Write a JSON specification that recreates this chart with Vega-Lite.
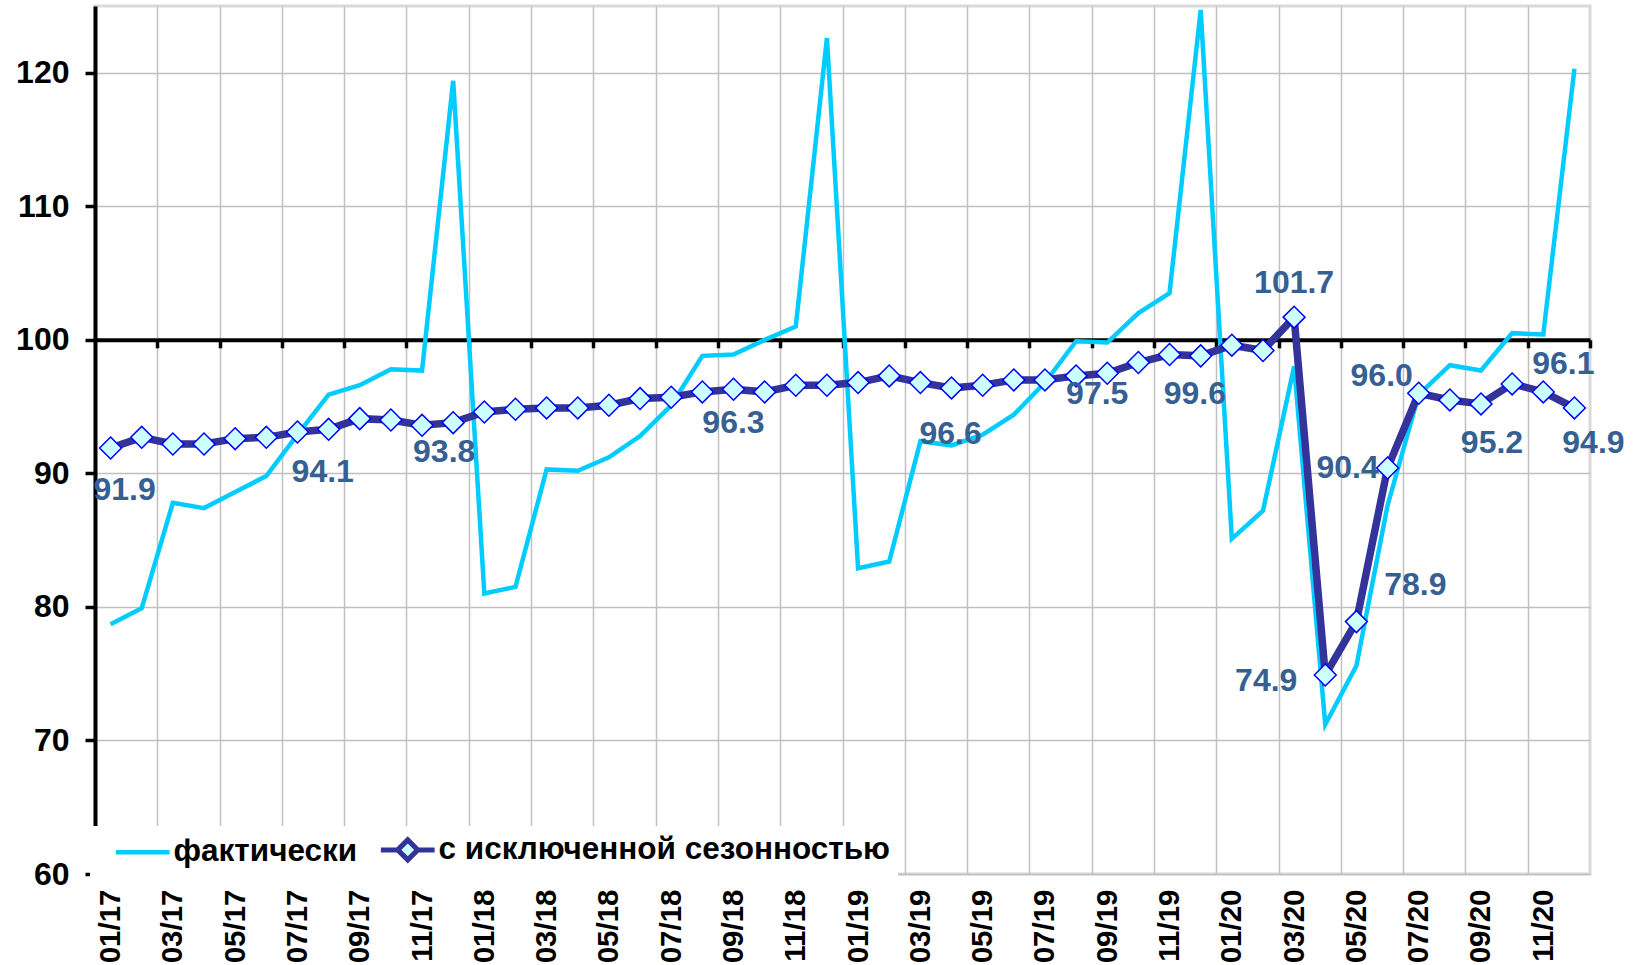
{
  "$schema": "https://vega.github.io/schema/vega-lite/v6.json",
  "width": 1495,
  "height": 868,
  "autosize": {"type": "none"},
  "padding": {"left": 95, "top": 6, "right": 46, "bottom": 91},
  "background": "white",
  "config": {"view": {"stroke": "#d9d9d9", "strokeWidth": 3}, "font": "Liberation Sans"},
  "data": {"values": [
    {"i":0,"s":"фактически","v":78.7},{"i":1,"s":"фактически","v":79.9},{"i":2,"s":"фактически","v":87.8},{"i":3,"s":"фактически","v":87.4},
    {"i":4,"s":"фактически","v":88.6},{"i":5,"s":"фактически","v":89.8},{"i":6,"s":"фактически","v":92.9},{"i":7,"s":"фактически","v":95.9},
    {"i":8,"s":"фактически","v":96.6},{"i":9,"s":"фактически","v":97.8},{"i":10,"s":"фактически","v":97.7},{"i":11,"s":"фактически","v":119.4},
    {"i":12,"s":"фактически","v":81.0},{"i":13,"s":"фактически","v":81.5},{"i":14,"s":"фактически","v":90.3},{"i":15,"s":"фактически","v":90.2},
    {"i":16,"s":"фактически","v":91.2},{"i":17,"s":"фактически","v":92.8},{"i":18,"s":"фактически","v":95.1},{"i":19,"s":"фактически","v":98.8},
    {"i":20,"s":"фактически","v":98.9},{"i":21,"s":"фактически","v":100.0},{"i":22,"s":"фактически","v":101.0},{"i":23,"s":"фактически","v":122.6},
    {"i":24,"s":"фактически","v":82.9},{"i":25,"s":"фактически","v":83.4},{"i":26,"s":"фактически","v":92.4},{"i":27,"s":"фактически","v":92.1},
    {"i":28,"s":"фактически","v":92.9},{"i":29,"s":"фактически","v":94.4},{"i":30,"s":"фактически","v":96.8},{"i":31,"s":"фактически","v":99.9},
    {"i":32,"s":"фактически","v":99.8},{"i":33,"s":"фактически","v":102.0},{"i":34,"s":"фактически","v":103.5},{"i":35,"s":"фактически","v":124.7},
    {"i":36,"s":"фактически","v":85.1},{"i":37,"s":"фактически","v":87.2},{"i":38,"s":"фактически","v":98.0},{"i":39,"s":"фактически","v":71.2},
    {"i":40,"s":"фактически","v":75.6},{"i":41,"s":"фактически","v":87.6},{"i":42,"s":"фактически","v":95.9},{"i":43,"s":"фактически","v":98.1},
    {"i":44,"s":"фактически","v":97.7},{"i":45,"s":"фактически","v":100.5},{"i":46,"s":"фактически","v":100.4},{"i":47,"s":"фактически","v":120.3},
    {"i":0,"s":"с исключенной сезонностью","v":91.9},{"i":1,"s":"с исключенной сезонностью","v":92.7},{"i":2,"s":"с исключенной сезонностью","v":92.2},{"i":3,"s":"с исключенной сезонностью","v":92.2},
    {"i":4,"s":"с исключенной сезонностью","v":92.6},{"i":5,"s":"с исключенной сезонностью","v":92.7},{"i":6,"s":"с исключенной сезонностью","v":93.1},{"i":7,"s":"с исключенной сезонностью","v":93.3},
    {"i":8,"s":"с исключенной сезонностью","v":94.1},{"i":9,"s":"с исключенной сезонностью","v":94.0},{"i":10,"s":"с исключенной сезонностью","v":93.6},{"i":11,"s":"с исключенной сезонностью","v":93.8},
    {"i":12,"s":"с исключенной сезонностью","v":94.6},{"i":13,"s":"с исключенной сезонностью","v":94.8},{"i":14,"s":"с исключенной сезонностью","v":94.9},{"i":15,"s":"с исключенной сезонностью","v":94.9},
    {"i":16,"s":"с исключенной сезонностью","v":95.1},{"i":17,"s":"с исключенной сезонностью","v":95.6},{"i":18,"s":"с исключенной сезонностью","v":95.7},{"i":19,"s":"с исключенной сезонностью","v":96.1},
    {"i":20,"s":"с исключенной сезонностью","v":96.3},{"i":21,"s":"с исключенной сезонностью","v":96.1},{"i":22,"s":"с исключенной сезонностью","v":96.6},{"i":23,"s":"с исключенной сезонностью","v":96.6},
    {"i":24,"s":"с исключенной сезонностью","v":96.8},{"i":25,"s":"с исключенной сезонностью","v":97.3},{"i":26,"s":"с исключенной сезонностью","v":96.8},{"i":27,"s":"с исключенной сезонностью","v":96.4},
    {"i":28,"s":"с исключенной сезонностью","v":96.6},{"i":29,"s":"с исключенной сезонностью","v":97.0},{"i":30,"s":"с исключенной сезонностью","v":97.0},{"i":31,"s":"с исключенной сезонностью","v":97.3},
    {"i":32,"s":"с исключенной сезонностью","v":97.5},{"i":33,"s":"с исключенной сезонностью","v":98.3},{"i":34,"s":"с исключенной сезонностью","v":98.9},{"i":35,"s":"с исключенной сезонностью","v":98.8},
    {"i":36,"s":"с исключенной сезонностью","v":99.6},{"i":37,"s":"с исключенной сезонностью","v":99.2},{"i":38,"s":"с исключенной сезонностью","v":101.7},{"i":39,"s":"с исключенной сезонностью","v":74.9},
    {"i":40,"s":"с исключенной сезонностью","v":78.9},{"i":41,"s":"с исключенной сезонностью","v":90.4},{"i":42,"s":"с исключенной сезонностью","v":96.0},{"i":43,"s":"с исключенной сезонностью","v":95.5},
    {"i":44,"s":"с исключенной сезонностью","v":95.2},{"i":45,"s":"с исключенной сезонностью","v":96.7},{"i":46,"s":"с исключенной сезонностью","v":96.1},{"i":47,"s":"с исключенной сезонностью","v":94.9}
  ]},
  "resolve": {"axis": {"x": "independent"}},
  "encoding": {
    "y": {"field": "v", "type": "quantitative",
      "scale": {"domain": [60, 125], "nice": false, "zero": false},
      "axis": {"values": [60,70,80,90,100,110,120], "title": null, "grid": true, "gridColor": "#c0c0c0", "gridWidth": 1.5,
        "domainColor": "black", "domainWidth": 4, "tickColor": "black", "tickWidth": 3.5, "tickSize": 10,
        "labelFont": "Liberation Sans", "labelFontSize": 32, "labelFontWeight": "bold", "labelColor": "black",
        "labelPadding": 16, "labelFlush": false, "labelOverlap": false}}
  },
  "layer": [
    {
      "transform": [{"filter": "datum.s === 'фактически'"}],
      "mark": {"type": "line", "strokeWidth": 4.5},
      "encoding": {
        "x": {"field": "i", "type": "quantitative", "scale": {"domain": [-0.5, 47.5], "nice": false, "zero": false},
          "axis": {"orient": "bottom", "title": null, "values": [0,2,4,6,8,10,12,14,16,18,20,22,24,26,28,30,32,34,36,38,40,42,44,46],
            "labelExpr": "(datum.value % 12 < 9 ? '0' : '') + (datum.value % 12 + 1) + '/' + (17 + floor(datum.value / 12))",
            "labelAngle": 270, "labelFont": "Liberation Sans", "labelFontSize": 29.5, "labelFontWeight": "bold", "labelColor": "black",
            "labelPadding": 15, "ticks": false, "tickSize": 0, "domain": false, "grid": false, "labelFlush": false, "labelOverlap": false}},
        "stroke": {"field": "s", "type": "nominal",
          "scale": {"domain": ["фактически", "с исключенной сезонностью"], "range": ["#00CCFF", "#333399"]},
          "legend": {"title": null, "orient": "none", "legendX": -5, "legendY": 820, "direction": "horizontal",
            "fillColor": "white", "padding": 8, "symbolSize": 625, "symbolOffset": 29, "symbolStrokeWidth": 4,
            "labelFont": "Liberation Sans", "labelFontSize": 31.5, "labelFontWeight": "bold", "labelColor": "black",
            "labelOffset": 15, "columnPadding": 5, "labelLimit": 0,
            "encode": {"symbols": {"update": {
              "shape": {"signal": "datum.value === 'фактически' ? 'M-2.15,0H2.15' : 'M-2.15,0H-0.8M0.8,0H2.15M-0.8,0L0,-0.8L0.8,0L0,0.8Z'"},
              "fill": {"signal": "datum.value === 'фактически' ? 'transparent' : '#CCFFFF'"},
              "strokeWidth": {"signal": "datum.value === 'фактически' ? 4.5 : 5"}
            }}}}}
      }
    },
    {
      "transform": [{"filter": "datum.s === 'с исключенной сезонностью'"}],
      "mark": {"type": "line", "strokeWidth": 7.5},
      "encoding": {
        "x": {"field": "i", "type": "quantitative", "scale": {"domain": [-0.5, 47.5], "nice": false, "zero": false},
          "axis": {"orient": "bottom", "title": null, "values": [1.5,3.5,5.5,7.5,9.5,11.5,13.5,15.5,17.5,19.5,21.5,23.5,25.5,27.5,29.5,31.5,33.5,35.5,37.5,39.5,41.5,43.5,45.5],
            "grid": true, "gridColor": "#c0c0c0", "gridWidth": 1.5, "labels": false, "ticks": false, "domain": false}},
        "stroke": {"field": "s", "type": "nominal",
          "scale": {"domain": ["фактически", "с исключенной сезонностью"], "range": ["#00CCFF", "#333399"]}}
      }
    },
    {
      "transform": [{"filter": "datum.s === 'с исключенной сезонностью'"}],
      "mark": {"type": "point", "shape": "diamond", "filled": true, "fill": "#CCFFFF", "stroke": "#0000FF", "strokeWidth": 1.5, "size": 480, "opacity": 1},
      "encoding": {
        "x": {"field": "i", "type": "quantitative", "scale": {"domain": [-0.5, 47.5], "nice": false, "zero": false},
          "axis": {"orient": "bottom", "title": null, "offset": -534.2,
            "values": [1.5,3.5,5.5,7.5,9.5,11.5,13.5,15.5,17.5,19.5,21.5,23.5,25.5,27.5,29.5,31.5,33.5,35.5,37.5,39.5,41.5,43.5,45.5,47.5],
            "grid": false, "labels": false, "ticks": true, "tickSize": 8, "tickWidth": 3.5, "tickColor": "black",
            "domain": true, "domainColor": "black", "domainWidth": 4}}
      }
    },
    {"transform": [{"filter": "datum.s === 'с исключенной сезонностью' && datum.i === 0"}],
     "mark": {"type": "text", "dx": 14, "dy": 42, "fontSize": 32, "fontWeight": "bold", "fill": "#366092", "align": "center", "baseline": "middle"},
     "encoding": {"x": {"field": "i", "type": "quantitative", "axis": null}, "text": {"field": "v", "type": "quantitative", "format": ".1f"}}},
    {"transform": [{"filter": "datum.s === 'с исключенной сезонностью' && datum.i === 8"}],
     "mark": {"type": "text", "dx": -37, "dy": 53, "fontSize": 32, "fontWeight": "bold", "fill": "#366092", "align": "center", "baseline": "middle"},
     "encoding": {"x": {"field": "i", "type": "quantitative", "axis": null}, "text": {"field": "v", "type": "quantitative", "format": ".1f"}}},
    {"transform": [{"filter": "datum.s === 'с исключенной сезонностью' && datum.i === 11"}],
     "mark": {"type": "text", "dx": -9, "dy": 29, "fontSize": 32, "fontWeight": "bold", "fill": "#366092", "align": "center", "baseline": "middle"},
     "encoding": {"x": {"field": "i", "type": "quantitative", "axis": null}, "text": {"field": "v", "type": "quantitative", "format": ".1f"}}},
    {"transform": [{"filter": "datum.s === 'с исключенной сезонностью' && datum.i === 20"}],
     "mark": {"type": "text", "dx": 0, "dy": 34, "fontSize": 32, "fontWeight": "bold", "fill": "#366092", "align": "center", "baseline": "middle"},
     "encoding": {"x": {"field": "i", "type": "quantitative", "axis": null}, "text": {"field": "v", "type": "quantitative", "format": ".1f"}}},
    {"transform": [{"filter": "datum.s === 'с исключенной сезонностью' && datum.i === 28"}],
     "mark": {"type": "text", "dx": -32, "dy": 49, "fontSize": 32, "fontWeight": "bold", "fill": "#366092", "align": "center", "baseline": "middle"},
     "encoding": {"x": {"field": "i", "type": "quantitative", "axis": null}, "text": {"field": "v", "type": "quantitative", "format": ".1f"}}},
    {"transform": [{"filter": "datum.s === 'с исключенной сезонностью' && datum.i === 32"}],
     "mark": {"type": "text", "dx": -10, "dy": 21, "fontSize": 32, "fontWeight": "bold", "fill": "#366092", "align": "center", "baseline": "middle"},
     "encoding": {"x": {"field": "i", "type": "quantitative", "axis": null}, "text": {"field": "v", "type": "quantitative", "format": ".1f"}}},
    {"transform": [{"filter": "datum.s === 'с исключенной сезонностью' && datum.i === 36"}],
     "mark": {"type": "text", "dx": -37, "dy": 49, "fontSize": 32, "fontWeight": "bold", "fill": "#366092", "align": "center", "baseline": "middle"},
     "encoding": {"x": {"field": "i", "type": "quantitative", "axis": null}, "text": {"field": "v", "type": "quantitative", "format": ".1f"}}},
    {"transform": [{"filter": "datum.s === 'с исключенной сезонностью' && datum.i === 38"}],
     "mark": {"type": "text", "dx": 0, "dy": -34, "fontSize": 32, "fontWeight": "bold", "fill": "#366092", "align": "center", "baseline": "middle"},
     "encoding": {"x": {"field": "i", "type": "quantitative", "axis": null}, "text": {"field": "v", "type": "quantitative", "format": ".1f"}}},
    {"transform": [{"filter": "datum.s === 'с исключенной сезонностью' && datum.i === 39"}],
     "mark": {"type": "text", "dx": -59, "dy": 6, "fontSize": 32, "fontWeight": "bold", "fill": "#366092", "align": "center", "baseline": "middle"},
     "encoding": {"x": {"field": "i", "type": "quantitative", "axis": null}, "text": {"field": "v", "type": "quantitative", "format": ".1f"}}},
    {"transform": [{"filter": "datum.s === 'с исключенной сезонностью' && datum.i === 40"}],
     "mark": {"type": "text", "dx": 59, "dy": -37, "fontSize": 32, "fontWeight": "bold", "fill": "#366092", "align": "center", "baseline": "middle"},
     "encoding": {"x": {"field": "i", "type": "quantitative", "axis": null}, "text": {"field": "v", "type": "quantitative", "format": ".1f"}}},
    {"transform": [{"filter": "datum.s === 'с исключенной сезонностью' && datum.i === 41"}],
     "mark": {"type": "text", "dx": -40, "dy": 0, "fontSize": 32, "fontWeight": "bold", "fill": "#366092", "align": "center", "baseline": "middle"},
     "encoding": {"x": {"field": "i", "type": "quantitative", "axis": null}, "text": {"field": "v", "type": "quantitative", "format": ".1f"}}},
    {"transform": [{"filter": "datum.s === 'с исключенной сезонностью' && datum.i === 42"}],
     "mark": {"type": "text", "dx": -37, "dy": -17, "fontSize": 32, "fontWeight": "bold", "fill": "#366092", "align": "center", "baseline": "middle"},
     "encoding": {"x": {"field": "i", "type": "quantitative", "axis": null}, "text": {"field": "v", "type": "quantitative", "format": ".1f"}}},
    {"transform": [{"filter": "datum.s === 'с исключенной сезонностью' && datum.i === 44"}],
     "mark": {"type": "text", "dx": 11, "dy": 39, "fontSize": 32, "fontWeight": "bold", "fill": "#366092", "align": "center", "baseline": "middle"},
     "encoding": {"x": {"field": "i", "type": "quantitative", "axis": null}, "text": {"field": "v", "type": "quantitative", "format": ".1f"}}},
    {"transform": [{"filter": "datum.s === 'с исключенной сезонностью' && datum.i === 46"}],
     "mark": {"type": "text", "dx": 20, "dy": -28, "fontSize": 32, "fontWeight": "bold", "fill": "#366092", "align": "center", "baseline": "middle"},
     "encoding": {"x": {"field": "i", "type": "quantitative", "axis": null}, "text": {"field": "v", "type": "quantitative", "format": ".1f"}}},
    {"transform": [{"filter": "datum.s === 'с исключенной сезонностью' && datum.i === 47"}],
     "mark": {"type": "text", "dx": 19, "dy": 35, "fontSize": 32, "fontWeight": "bold", "fill": "#366092", "align": "center", "baseline": "middle"},
     "encoding": {"x": {"field": "i", "type": "quantitative", "axis": null}, "text": {"field": "v", "type": "quantitative", "format": ".1f"}}}
  ]
}
